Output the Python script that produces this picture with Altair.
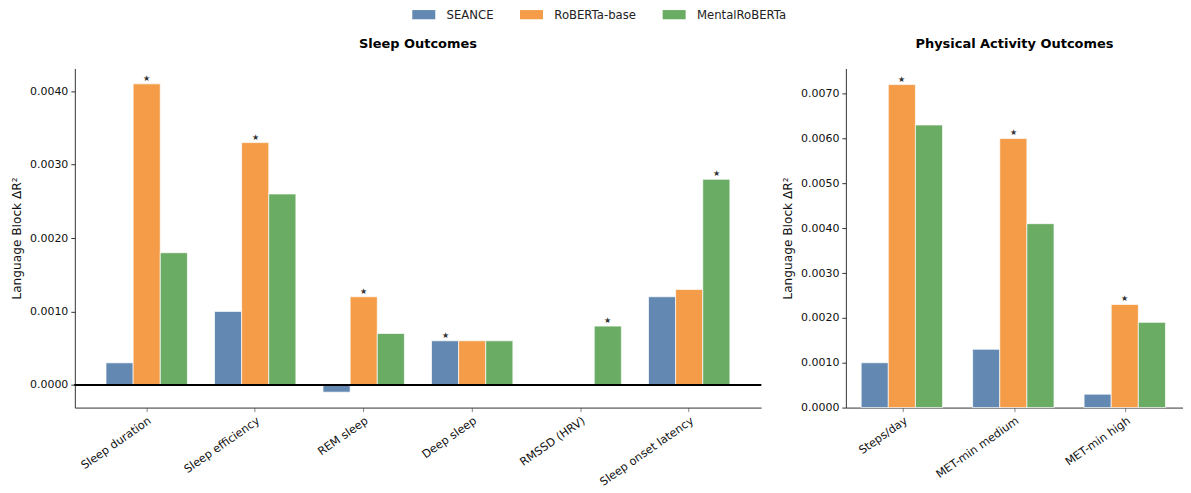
import altair as alt
import pandas as pd

models = ["SEANCE", "RoBERTa-base", "MentalRoBERTa"]
colors = ["#6389B2", "#F49C47", "#6BAC64"]

sleep_outcomes = ["Sleep duration", "Sleep efficiency", "REM sleep", "Deep sleep",
                  "RMSSD (HRV)", "Sleep onset latency"]
sleep_seance = [0.0003, 0.0010, -0.0001, 0.0006, None, 0.0012]
sleep_roberta = [0.0041, 0.0033, 0.0012, 0.0006, None, 0.0013]
sleep_mental = [0.0018, 0.0026, 0.0007, 0.0006, 0.0008, 0.0028]
sleep_sig = ["RoBERTa-base", "RoBERTa-base", "RoBERTa-base", "SEANCE",
             "MentalRoBERTa", "MentalRoBERTa"]

pa_outcomes = ["Steps/day", "MET-min medium", "MET-min high"]
pa_seance = [0.0010, 0.0013, 0.0003]
pa_roberta = [0.0072, 0.0060, 0.0023]
pa_mental = [0.0063, 0.0041, 0.0019]
pa_sig = ["RoBERTa-base", "RoBERTa-base", "RoBERTa-base"]

sleep_ticks = [0.0, 0.001, 0.002, 0.003, 0.004]
pa_ticks = [0.0, 0.001, 0.002, 0.003, 0.004, 0.005, 0.006, 0.007]


def to_long(outcomes, s1, s2, s3, sig):
    rows = []
    for i, o in enumerate(outcomes):
        for m, vals in zip(models, [s1, s2, s3]):
            v = vals[i]
            if v is None:
                continue
            rows.append({"outcome": o, "model": m, "value": v,
                         "sig": 1 if sig[i] == m else 0})
    return pd.DataFrame(rows)


sleep_df = to_long(sleep_outcomes, sleep_seance, sleep_roberta, sleep_mental, sleep_sig)
pa_df = to_long(pa_outcomes, pa_seance, pa_roberta, pa_mental, pa_sig)

color_enc = alt.Color(
    "model:N", sort=models,
    scale=alt.Scale(domain=models, range=colors),
    legend=alt.Legend(
        title=None, orient="none", direction="horizontal",
        legendX=344, legendY=-60,
        symbolType="M-2.5,-1H2.5V1H-2.5Z", symbolSize=85,
        symbolStrokeWidth=0, symbolOpacity=1,
        labelFontSize=11.7, labelOffset=17, columnPadding=26,
        labelFont="DejaVu Sans", labelColor="#222",
    ),
)


def panel(df, outcomes, title, ydomain, yticks, width, pad_outer, zero_rule):
    x = alt.X("outcome:N", sort=outcomes,
              scale=alt.Scale(paddingInner=0.25, paddingOuter=pad_outer),
              axis=alt.Axis(title=None, labelAngle=-35, labelAlign="right",
                            labelBaseline="top", tickColor="#888", labelFontSize=11.3))
    xo = alt.XOffset("model:N", sort=models,
                     scale=alt.Scale(domain=models, paddingInner=0, paddingOuter=0))
    y = alt.Y("value:Q",
              scale=alt.Scale(domain=ydomain, nice=False, zero=False),
              axis=alt.Axis(values=yticks, format=".4f", title="Language Block ΔR²",
                            grid=False, labelFontSize=11))
    bars = alt.Chart(df).mark_bar(stroke="white", strokeWidth=0.7).encode(
        x=x, xOffset=xo, y=y, color=color_enc)
    stars = alt.Chart(df).transform_filter(alt.datum.sig == 1).mark_text(
        text="★", fontSize=8.5, dy=-6, baseline="middle", color="#333").encode(
        x=alt.X("outcome:N", sort=outcomes), xOffset=alt.XOffset("model:N", sort=models),
        y="value:Q")
    layers = [bars, stars]
    if zero_rule:
        rule = alt.Chart(df).mark_rule(color="black", strokeWidth=0.8).encode(
            y=alt.datum(0))
        layers.append(rule)
    return alt.layer(*layers).properties(
        width=width, height=340,
        title=alt.TitleParams(title, fontSize=13, fontWeight="bold", offset=18,
                              font="DejaVu Sans", color="black"))


left = panel(sleep_df, sleep_outcomes, "Sleep Outcomes", [-0.00031, 0.00431],
             sleep_ticks, 688, 0.2875, True)
right = panel(pa_df, pa_outcomes, "Physical Activity Outcomes", [0.0, 0.00756],
              pa_ticks, 338, 0.1375, False)

chart = alt.hconcat(left, right, spacing=19).properties(
    padding={"left": 2, "top": 0, "right": 0, "bottom": 0}
).configure_view(stroke=None).configure_axis(
    labelFont="DejaVu Sans", titleFont="DejaVu Sans",
    labelFontSize=11, titleFontSize=12.2, titleFontWeight="normal",
    labelColor="#111", titleColor="#111",
    domainColor="#333", domainWidth=1, tickColor="#333", tickSize=4,
    labelPadding=3, titlePadding=6,
)

chart.save("out.html", embed_options={"renderer": "svg", "actions": False})
